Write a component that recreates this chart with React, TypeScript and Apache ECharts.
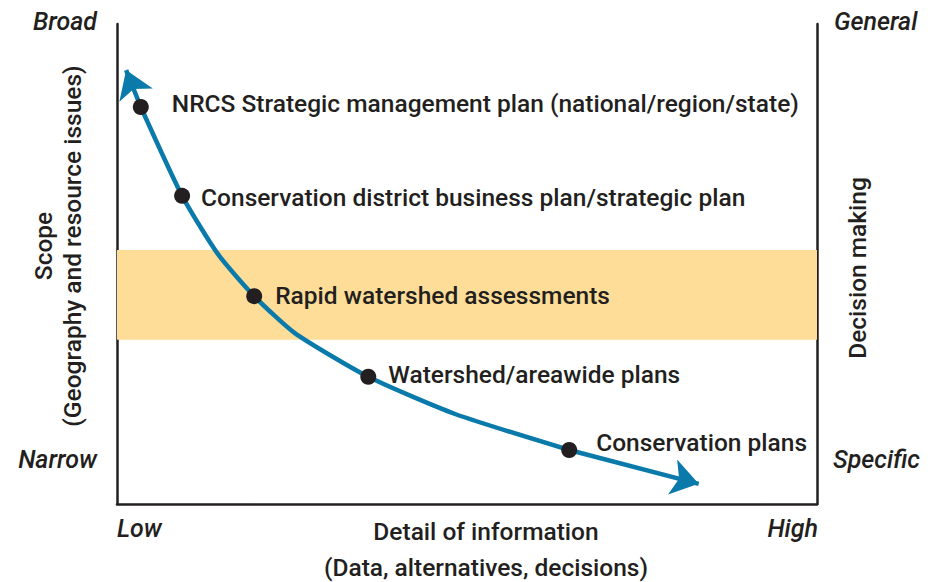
import React, { useEffect, useRef } from "react";
import * as echarts from "echarts";

// ---- data ----
const curveX = [3.4, 9.3, 14.4, 19.6, 25.4, 35.9, 48.3, 64.6];
const curveY = [82.7, 64.2, 52.1, 43.3, 35.6, 26.5, 18.75, 11.25];

const milestoneNames = [
  "NRCS Strategic management plan (national/region/state)",
  "Conservation district business plan/strategic plan",
  "Rapid watershed assessments",
  "Watershed/areawide plans",
  "Conservation plans",
];
const milestoneX = [3.4, 9.3, 19.6, 35.9, 64.6];
const milestoneY = [82.7, 64.2, 43.3, 26.5, 11.25];

const arrowUpFrom = [3.4, 82.7];
const arrowUpTo = [1.3, 90.4];
const arrowDownFrom = [64.6, 11.25];
const arrowDownTo = [83.1, 4.2];

const bandLow = 34.2;
const bandHigh = 52.9;

const xTitle = "Detail of information\n(Data, alternatives, decisions)";
const yTitle = "Scope\n(Geography and resource issues)";
const y2Title = "Decision making";
const cornerLabels = { broad: "Broad", narrow: "Narrow", general: "General", specific: "Specific", low: "Low", high: "High" };

// ---- styles ----
const INK = "#231f20";
const BLUE = "#0a7aab";
const BAND = "#fddd97";
const FONT = "Roboto";
const labelOffsets = [
  [23, -4],
  [11, 2],
  [13, -1],
  [12, -2],
  [19, -8],
];

export default function App() {
  const ref = useRef<HTMLDivElement>(null);
  useEffect(() => {
    if (!ref.current) return;
    const chart = echarts.init(ref.current, undefined, { renderer: "svg" });
    const italic = { fontFamily: FONT, fontStyle: "italic", fontWeight: 500, fontSize: 25, fill: INK };
    chart.setOption({
      animation: false,
      backgroundColor: "#ffffff",
      grid: { left: 117, right: 118, top: 24, bottom: 78, outerBoundsMode: "none", containLabel: false },
      xAxis: {
        type: "value",
        min: 0,
        max: 100,
        axisLine: { show: true, onZero: false, lineStyle: { color: INK, width: 2.5 } },
        axisTick: { show: false },
        axisLabel: { show: false },
        splitLine: { show: false },
        name: xTitle,
        nameLocation: "middle",
        nameGap: 9,
        nameTextStyle: { fontFamily: FONT, fontWeight: 500, fontSize: 24.5, color: INK, lineHeight: 36, verticalAlign: "top", padding: [0, 0, 0, 38] },
      },
      yAxis: [
        {
          type: "value",
          min: 0,
          max: 100,
          position: "left",
          axisLine: { show: true, onZero: false, lineStyle: { color: INK, width: 2.5 } },
          axisTick: { show: false },
          axisLabel: { show: false },
          splitLine: { show: false },
          name: yTitle,
          nameLocation: "middle",
          nameGap: 30,
          nameRotate: 90,
          nameTextStyle: { fontFamily: FONT, fontWeight: 500, fontSize: 24.5, color: INK, lineHeight: 29, align: "center", padding: [0, 0, 0, 36] },
        },
        {
          type: "value",
          min: 0,
          max: 100,
          position: "right",
          axisLine: { show: true, onZero: false, lineStyle: { color: INK, width: 2.5 } },
          axisTick: { show: false },
          axisLabel: { show: false },
          splitLine: { show: false },
          name: y2Title,
          nameLocation: "middle",
          nameGap: 28,
          nameRotate: 90,
          nameTextStyle: { fontFamily: FONT, fontWeight: 500, fontSize: 24.5, color: INK, padding: [0, 8, 0, 0] },
        },
      ],
      series: [
        {
          type: "line",
          data: curveX.map((x, i) => [x, curveY[i]]),
          showSymbol: false,
          smooth: 0.2,
          lineStyle: { color: BLUE, width: 4.5 },
          z: 3,
          markArea: {
            silent: true,
            itemStyle: { color: BAND, opacity: 1 },
            data: [[{ yAxis: bandLow }, { yAxis: bandHigh }]],
          },
        },
        {
          type: "lines",
          coordinateSystem: "cartesian2d",
          symbol: ["none", "arrow"],
          symbolSize: 27,
          lineStyle: { color: BLUE, width: 4.5, opacity: 1 },
          z: 3,
          data: [
            { coords: [arrowUpFrom, arrowUpTo] },
            { coords: [arrowDownFrom, arrowDownTo] },
          ],
        },
        {
          type: "scatter",
          symbol: "circle",
          symbolSize: 16,
          itemStyle: { color: INK, opacity: 1 },
          z: 5,
          data: milestoneNames.map((n, i) => ({
            name: n,
            value: [milestoneX[i], milestoneY[i]],
            label: {
              show: true,
              position: "right",
              distance: 0,
              offset: labelOffsets[i],
              formatter: n,
              fontFamily: FONT,
              fontWeight: 500,
              fontSize: 24.5,
              color: INK,
            },
          })),
        },
      ],
      graphic: [
        { type: "text", right: 935 - 97, top: 9, style: { ...italic, text: cornerLabels.broad } },
        { type: "text", right: 935 - 97, top: 447, style: { ...italic, text: cornerLabels.narrow } },
        { type: "text", left: 834, top: 9, style: { ...italic, text: cornerLabels.general } },
        { type: "text", left: 833, top: 447, style: { ...italic, text: cornerLabels.specific } },
        { type: "text", left: 117, top: 516, style: { ...italic, text: cornerLabels.low } },
        { type: "text", right: 935 - 818, top: 516, style: { ...italic, text: cornerLabels.high } },
      ],
    });
    return () => chart.dispose();
  }, []);
  return <div ref={ref} style={{ position: "fixed", left: 0, top: 0, width: 935, height: 582 }} />;
}
